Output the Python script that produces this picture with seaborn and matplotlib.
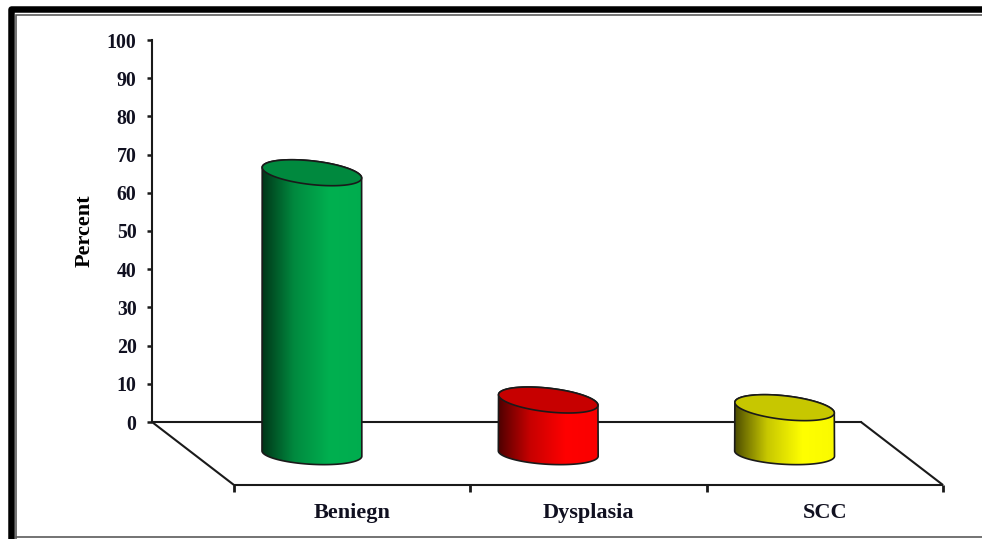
import numpy as np
import pandas as pd
import matplotlib
matplotlib.use("Agg")
import matplotlib.pyplot as plt
from matplotlib.colors import to_rgb
from matplotlib.lines import Line2D
from matplotlib.patches import PathPatch
from matplotlib.path import Path
from matplotlib.transforms import Affine2D, ScaledTranslation
import seaborn as sns

# Diagnosis groups and their share in percent
categories = ["Beniegn", "Dysplasia", "SCC"]
percent = [73.5, 14.0, 12.0]
bar_colors = ["#00B050", "#FF0000", "#FFFF00"]
y_ticks = list(range(0, 101, 10))

W, H, DPI = 982, 539, 100
INK = "#1a1a1a"

sns.set_style("white")
plt.rcParams["font.family"] = ["Liberation Serif", "DejaVu Serif"]
plt.rcParams["font.weight"] = "bold"

fig = plt.figure(figsize=(W / DPI, H / DPI), dpi=DPI, facecolor="white")
# The axes frame is the back wall of the chart
ax = fig.add_axes([152 / W, 1 - 422 / H, 709 / W, 382 / H])

df = pd.DataFrame({"group": categories, "percent": percent})
sns.barplot(data=df, x="group", y="percent", hue="group", palette=bar_colors,
            legend=False, width=100 / (709 / 3), ax=ax, saturation=1)
ax.set_xlim(-0.5, 2.5)
ax.set_ylim(0, 100)

# Data units per screen pixel, used to express the oblique depth
sx = 3 / 709
sy = 100 / 382
depth_x, depth_y = 82 * sx, 63 * sy


def ellipse_points(cx, cy, a, b, tilt_deg, n=240):
    """Tilted ellipse in data units; a, b are pixel radii, tilt is clockwise."""
    t = np.linspace(0, 2 * np.pi, n, endpoint=False)
    th = np.radians(tilt_deg)
    dx = a * np.cos(t) * np.cos(th) + b * np.sin(t) * np.sin(th)
    dy = -a * np.cos(t) * np.sin(th) + b * np.sin(t) * np.cos(th)
    return cx + dx * sx, cy + dy * sy


def half_arc(xs, ys, lower):
    """Part of a closed ellipse between its leftmost and rightmost points."""
    i, j = int(np.argmin(xs)), int(np.argmax(xs))
    n = len(xs)
    first = [(i + k) % n for k in range((j - i) % n + 1)]
    second = [(j + k) % n for k in range((i - j) % n + 1)]
    mean_first = ys[first].mean()
    mean_second = ys[second].mean()
    arc = first if (mean_first < mean_second) == lower else second[::-1]
    return xs[arc], ys[arc]


ramp_pos = np.array([0.0, 0.10, 0.32, 0.68, 1.0])
ramp_val = np.array([0.30, 0.46, 0.78, 1.0, 0.98])
ramp_x = np.linspace(0, 1, 200)
shade = np.interp(ramp_x, ramp_pos, ramp_val)

for bar, color in zip(list(ax.patches), bar_colors):
    bar.set_visible(False)
    cx = bar.get_x() + bar.get_width() / 2 + (depth_x + 1.5 * sx) / 2
    half_w = bar.get_width() / 2 / sx
    base = -depth_y / 2
    top = base + bar.get_height()

    bx, by = ellipse_points(cx, base, half_w, 10.8, 3.2)
    tx, ty = ellipse_points(cx, top, half_w, 11.8, 6.4)
    low_x, low_y = half_arc(bx, by, lower=True)
    up_x, up_y = half_arc(tx, ty, lower=False)
    outline = np.vstack([
        np.column_stack([low_x, low_y]),
        np.column_stack([up_x[::-1], up_y[::-1]]),
    ])
    body = PathPatch(Path(np.vstack([outline, outline[:1]]), closed=True),
                     facecolor="none", edgecolor=INK, lw=1.2,
                     clip_on=False, zorder=5, joinstyle="round")
    ax.add_patch(body)

    rgb = np.array(to_rgb(color))
    grad = (shade[:, None] * rgb)[None, :, :]
    img = ax.imshow(grad, extent=[bx.min(), bx.max(), by.min(), ty.max()],
                    aspect="auto", interpolation="bilinear", zorder=4)
    img.set_clip_box(fig.bbox)
    img.set_clip_path(body)

    ax.fill(tx, ty, facecolor=rgb * 0.78, edgecolor=INK, lw=1.2,
            clip_on=False, zorder=6)

ax.set_xlim(-0.5, 2.5)
ax.set_ylim(0, 100)

# Floor of the chart and its front tick marks
x0, x1 = ax.get_xlim()
floor_x = [x0, x0 + depth_x, x1 + depth_x, x1]
floor_y = [0, -depth_y, -depth_y, 0]
ax.plot(floor_x, floor_y, color=INK, lw=1.5, clip_on=False, zorder=2,
        solid_joinstyle="miter")
for k in range(len(categories) + 1):
    ax.plot([x0 + k + depth_x] * 2, [-depth_y, -depth_y - 7 * sy], color=INK,
            lw=2.0, clip_on=False, zorder=2, solid_capstyle="butt")

sns.despine(ax=ax, top=True, right=True)
for side in ("left", "bottom"):
    ax.spines[side].set_color(INK)
    ax.spines[side].set_linewidth(1.5)

ax.set_yticks(y_ticks)
ax.tick_params(axis="y", direction="out", length=3.6, width=1.8, color=INK,
               pad=7.5, labelsize=14.3, labelcolor="#101020", left=True)
ax.set_xticks(range(len(categories)))
ax.set_xticklabels(categories)
ax.tick_params(axis="x", length=0, pad=58.2, labelsize=16, labelcolor="#101020")
shift = ScaledTranslation(82 / DPI, 0, fig.dpi_scale_trans)
for label in ax.get_xticklabels():
    label.set_transform(label.get_transform() + shift)
    label.set_fontweight("bold")
for label in ax.get_yticklabels():
    label.set_fontweight("bold")

ax.set_xlabel("")
ax.set_ylabel("Percent", fontsize=16, fontweight="bold", color="black")
ax.yaxis.set_label_coords(-57 / 709, 0.5)

# Double border around the chart area, running off the top and right edges
to_px = Affine2D().scale(1 / W, -1 / H).translate(0, 1) + fig.transFigure
fig.add_artist(Line2D([11, 11, W + 20], [H + 20, 8.5, 8.5], transform=to_px,
                      color="black", lw=6.5 * 0.72, solid_joinstyle="round"))
fig.add_artist(Line2D([16, 16, W + 20], [H + 20, 15, 15], transform=to_px,
                      color="#555555", lw=1.6 * 0.72, solid_joinstyle="miter"))
fig.add_artist(Line2D([16, W + 20], [537, 537], transform=to_px,
                      color="#555555", lw=1.6 * 0.72))

fig.savefig("out.png", dpi=DPI)
